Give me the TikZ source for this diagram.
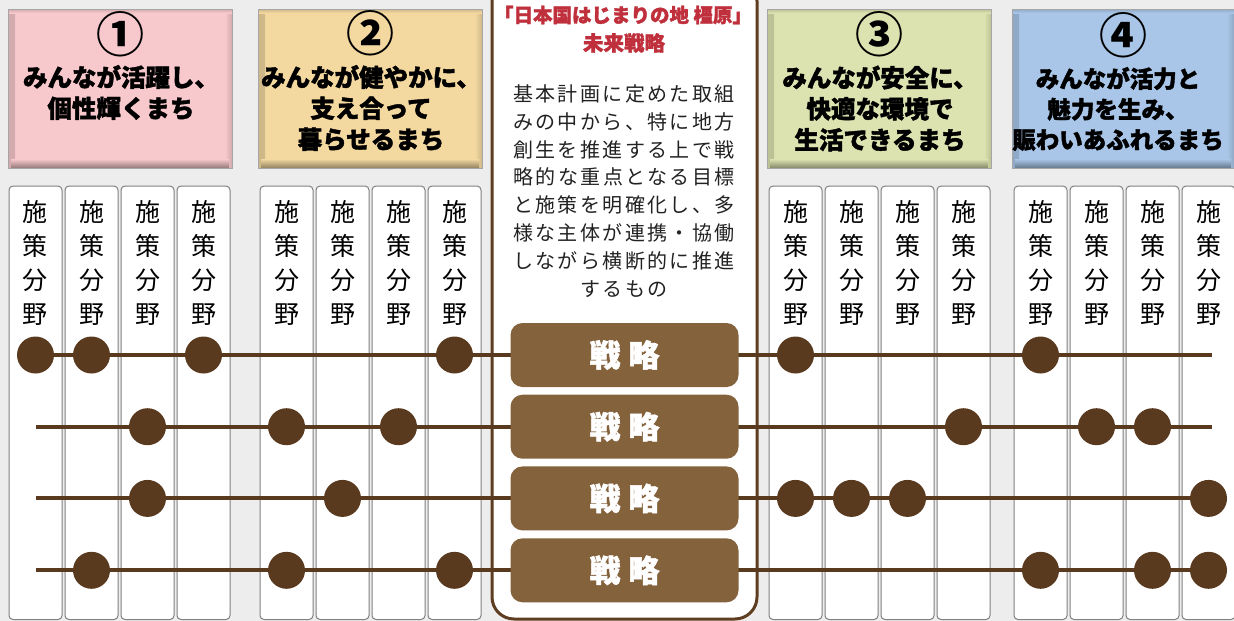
\documentclass[tikz,border=0pt]{standalone}
\usepackage{fontspec}
\newfontfamily\jp{Noto Sans CJK JP}
\newfontfamily\jpb{Noto Sans CJK JP}[BoldFeatures={FakeBold=1.6}]
\newfontfamily\jpsp{Noto Sans CJK JP}[LetterSpace=12]
\definecolor{bg}{HTML}{EDEDED}
\definecolor{pinkc}{HTML}{F8C9CC}
\definecolor{peachc}{HTML}{F3D8A0}
\definecolor{greenc}{HTML}{DDE3B0}
\definecolor{bluec}{HTML}{A9C6E8}
\definecolor{dotc}{HTML}{5A3A1F}
\definecolor{framec}{HTML}{5E3D20}
\definecolor{btnc}{HTML}{84623C}
\definecolor{redc}{HTML}{C0303C}
\definecolor{bodyc}{HTML}{222222}
\tikzset{
  hdr/.style={draw=black!35, line width=0.8pt, fill=#1, minimum height=159pt, inner sep=0pt,
    path picture={
      \shade[left color=#1!85!black, right color=#1] (path picture bounding box.south west) rectangle ([xshift=7pt]path picture bounding box.north west);
      \shade[left color=#1, right color=#1!85!black] ([xshift=-7pt]path picture bounding box.south east) rectangle (path picture bounding box.north east);
      \shade[top color=#1, bottom color=#1!60!black] ([xshift=3pt]path picture bounding box.south west) rectangle ([yshift=9pt,xshift=-3pt]path picture bounding box.south east);
      \shade[top color=#1!85!black, bottom color=#1] ([yshift=-4pt]path picture bounding box.north west) rectangle (path picture bounding box.north east);
    }},
  hnum/.style={font=\jp\bfseries\fontsize{48}{48}\selectfont, inner sep=0pt},
  htext/.style={font=\jpb\bfseries\fontsize{24.5}{31}\selectfont, align=center, inner sep=0pt},
  card/.style={draw=black!50, line width=1pt, fill=white, rounded corners=4pt, minimum width=53pt, minimum height=433.5pt, inner sep=0pt},
  cardtext/.style={font=\jp\fontsize{25}{33.7}\selectfont, align=center, inner sep=0pt},
  frame/.style={draw=framec, line width=3pt, fill=white, rounded corners=22pt, minimum width=265pt, minimum height=640pt, inner sep=0pt},
  rowline/.style={draw=dotc, line width=4pt},
  btn/.style={fill=btnc, rounded corners=12pt, minimum width=228pt, minimum height=64pt, inner sep=0pt, text=white, font=\jpb\bfseries\fontsize{31}{31}\selectfont},
  dot/.style={circle, fill=dotc, minimum size=37pt, inner sep=0pt},
}
\begin{document}
\begin{tikzpicture}[x=1pt, y=-1pt]
\useasboundingbox (0,0) rectangle (1234,621);
\fill[bg] (0,0) rectangle (1234,621);

% header boxes
\node[hdr=pinkc, minimum width=224pt] (h1) at (120,88.5) {};
\node[hdr=peachc, minimum width=224pt] (h2) at (370,88.5) {};
\node[hdr=greenc, minimum width=224pt] (h3) at (879,88.5) {};
\node[hdr=bluec, minimum width=222pt] (h4) at (1123,88.5) {};
\node[hnum] (n1) at (120,34) {①};
\node[hnum] (n2) at (370,33) {②};
\node[hnum] (n3) at (879,34) {③};
\node[hnum] (n4) at (1123,35) {④};
\node[htext] (ht1) at (121,92.5) {みんなが活躍し、\\個性輝くまち};
\node[htext] (ht2) at (371,108) {みんなが健やかに、\\支え合って\\暮らせるまち};
\node[htext] (ht3) at (880,108.5) {みんなが安全に、\\快適な環境で\\生活できるまち};
\node[htext, font=\jpb\bfseries\fontsize{23.5}{30.5}\selectfont] (ht4) at (1118,109) {みんなが活力と\\魅力を生み、\\賑わいあふれるまち};

% field cards
\foreach \g/\xo in {1/35.5,2/286.5,3/795.5,4/1040.5}{
  \foreach \k in {1,...,4}{
    \node[card] (c\g-\k) at ({\xo+56*(\k-1)},402.75) {};
    \node[cardtext] (t\g-\k) at ({\xo+56*(\k-1)},263) {施\\策\\分\\野};
  }
}

% central frame
\node[frame] (fr) at (624.5,299) {};
\node[font=\jpb\bfseries\fontsize{19.5}{19.5}\selectfont, text=redc, inner sep=0pt] (title) at (623,15) {「日本国はじまりの地 橿原」};
\node[font=\jpb\bfseries\fontsize{20.5}{20.5}\selectfont, text=redc, inner sep=0pt] (sub) at (624,43) {未来戦略};
\node[font=\jpsp\fontsize{20}{27.9}\selectfont, text=bodyc, align=center, inner sep=0pt] (body) at (624,191) {基本計画に定めた取組\\みの中から、特に地方\\創生を推進する上で戦\\略的な重点となる目標\\と施策を明確化し、多\\様な主体が連携・協働\\しながら横断的に推進\\するもの};

% rows
\coordinate (r1) at (0,355);
\coordinate (r2) at (0,426.7);
\coordinate (r3) at (0,498.4);
\coordinate (r4) at (0,570.3);
\coordinate (r1s) at (35.5,355);   \coordinate (r1e) at (1212,355);
\coordinate (r2s) at (36,426.7);   \coordinate (r2e) at (1212,426.7);
\coordinate (r3s) at (36,498.4);   \coordinate (r3e) at (1208,498.4);
\coordinate (r4s) at (36,570.3);   \coordinate (r4e) at (1208,570.3);
\foreach \r in {1,...,4}{ \draw[rowline] (r\r s) -- (r\r e); }

% strategy buttons
\foreach \r in {1,...,4}{ \node[btn] (s\r) at (fr.center |- r\r) {戦\hspace{8pt}略}; }

% dots
\foreach \r/\lst in {1/{1-1,1-2,1-4,2-4,3-1,4-1},2/{1-3,2-1,2-3,3-4,4-2,4-3},3/{1-3,2-2,3-1,3-2,3-3,4-4},4/{1-2,2-1,2-4,4-1,4-3,4-4}}{
  \foreach \c in \lst { \node[dot] (d\r-\c) at (c\c |- r\r) {}; }
}
\end{tikzpicture}
\end{document}
